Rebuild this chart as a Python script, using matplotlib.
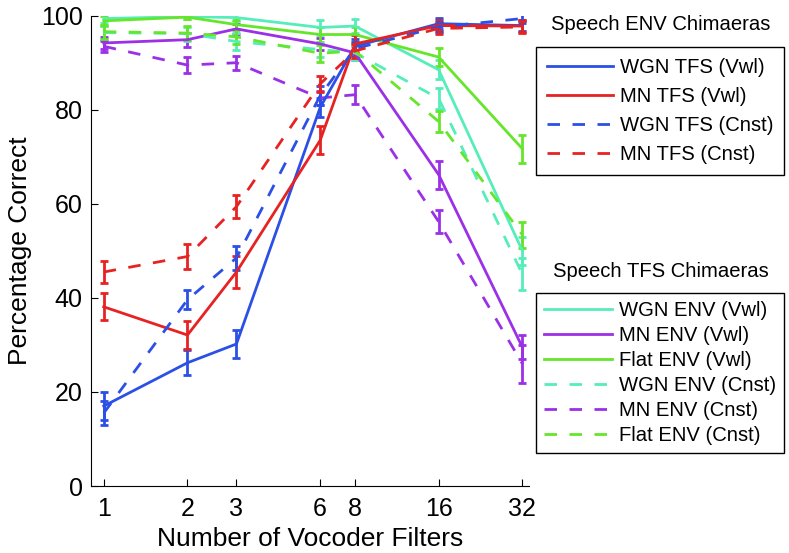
import matplotlib
matplotlib.use('Agg')
import matplotlib.pyplot as plt
from matplotlib.lines import Line2D

plt.rcParams['font.family'] = ['Liberation Sans', 'DejaVu Sans']

# 声码器滤波器数量
filters = [1, 2, 3, 6, 8, 16, 32]

# Speech ENV Chimaeras
wgn_tfs_vwl = [17.0, 26.2, 30.2, 80.5, 93.5, 98.3, 97.9]
wgn_tfs_vwl_err = [3.0, 2.7, 3.0, 2.0, 1.5, 1.2, 1.2]
mn_tfs_vwl = [38.1, 32.1, 45.5, 73.5, 94.0, 97.9, 97.8]
mn_tfs_vwl_err = [2.9, 3.0, 3.3, 3.0, 1.8, 1.2, 1.2]
wgn_tfs_cnst = [15.5, 39.6, 48.5, 83.0, 93.0, 97.6, 99.4]
wgn_tfs_cnst_err = [2.5, 2.0, 2.5, 2.0, 1.5, 1.0, 1.0]
mn_tfs_cnst = [45.5, 48.8, 59.4, 85.5, 92.5, 97.3, 97.6]
mn_tfs_cnst_err = [2.4, 2.6, 2.4, 1.7, 1.5, 1.2, 1.2]

# Speech TFS Chimaeras
wgn_env_vwl = [99.4, 99.8, 99.6, 97.5, 97.8, 88.5, 50.0]
wgn_env_vwl_err = [1.0, 0.5, 0.8, 1.5, 1.5, 2.0, 3.0]
mn_env_vwl = [94.2, 94.9, 97.2, 94.0, 92.1, 66.2, 29.5]
mn_env_vwl_err = [1.2, 1.5, 1.0, 1.2, 1.5, 3.0, 2.6]
flat_env_vwl = [98.9, 99.7, 98.1, 96.0, 96.0, 91.2, 71.7]
flat_env_vwl_err = [1.0, 0.5, 1.0, 1.5, 1.5, 2.0, 3.0]
wgn_env_cnst = [96.4, 96.2, 94.5, 92.8, 92.1, 82.4, 45.0]
wgn_env_cnst_err = [1.5, 1.5, 1.8, 1.5, 1.5, 2.2, 3.4]
mn_env_cnst = [93.5, 89.5, 90.0, 82.5, 83.2, 56.2, 26.0]
mn_env_cnst_err = [1.2, 1.7, 1.5, 1.5, 2.0, 2.5, 4.0]
flat_env_cnst = [96.6, 96.3, 95.5, 92.0, 92.5, 77.5, 53.4]
flat_env_cnst_err = [1.5, 1.5, 1.5, 1.8, 1.5, 2.2, 2.8]

blue = '#2c50e6'
red = '#e62222'
cyan = '#55eebb'
purple = '#9b30e6'
green = '#66e62a'
dash = (0, (4.5, 4.5))

env_series = [
    ('WGN TFS (Vwl)', wgn_tfs_vwl, wgn_tfs_vwl_err, blue, '-'),
    ('MN TFS (Vwl)', mn_tfs_vwl, mn_tfs_vwl_err, red, '-'),
    ('WGN TFS (Cnst)', wgn_tfs_cnst, wgn_tfs_cnst_err, blue, dash),
    ('MN TFS (Cnst)', mn_tfs_cnst, mn_tfs_cnst_err, red, dash),
]
tfs_series = [
    ('WGN ENV (Vwl)', wgn_env_vwl, wgn_env_vwl_err, cyan, '-'),
    ('MN ENV (Vwl)', mn_env_vwl, mn_env_vwl_err, purple, '-'),
    ('Flat ENV (Vwl)', flat_env_vwl, flat_env_vwl_err, green, '-'),
    ('WGN ENV (Cnst)', wgn_env_cnst, wgn_env_cnst_err, cyan, dash),
    ('MN ENV (Cnst)', mn_env_cnst, mn_env_cnst_err, purple, dash),
    ('Flat ENV (Cnst)', flat_env_cnst, flat_env_cnst_err, green, dash),
]

fig = plt.figure(figsize=(7.89, 5.53), dpi=100)
ax = fig.add_axes([91 / 789, 1 - 486 / 553, 438 / 789, 470.3 / 553])

lw = 2.0
for series in (tfs_series, env_series):
    for label, y, err, color, ls in series:
        eb = ax.errorbar(filters, y, yerr=err, color=color, lw=lw, capsize=2.6,
                         capthick=2.0, elinewidth=2.0)
        eb[0].set_linestyle(ls)

ax.set_xscale('log')
ax.set_xlim(0.9, 33.8)
ax.set_ylim(0, 100)
ax.set_xticks(filters)
ax.set_xticklabels([str(f) for f in filters])
ax.minorticks_off()
ax.set_yticks([0, 20, 40, 60, 80, 100])
ax.tick_params(direction='in', length=5, labelsize=18, pad=6)
ax.tick_params(axis='x', pad=8)
ax.spines['top'].set_visible(False)
ax.spines['right'].set_visible(False)
ax.set_xlabel('Number of Vocoder Filters', fontsize=19, labelpad=4)
ax.set_ylabel('Percentage Correct', fontsize=19, labelpad=6)

# 图例(标题放在框外)
def make_handles(series):
    return [Line2D([], [], color=c, lw=lw, linestyle=ls) for _, _, _, c, ls in series]

fs = 14.6
leg1 = fig.legend(make_handles(env_series), [s[0] for s in env_series],
                  loc='upper left', bbox_to_anchor=(535.5 / 789, 1 - 46.7 / 553),
                  borderaxespad=0, fontsize=fs, handlelength=3.25, labelspacing=0.5,
                  fancybox=False, edgecolor='black', framealpha=1, handletextpad=0.35,
                  borderpad=0.55)
leg1.get_frame().set_linewidth(1.0)
leg2 = fig.legend(make_handles(tfs_series), [s[0] for s in tfs_series],
                  loc='upper left', bbox_to_anchor=(535.5 / 789, 1 - 292.7 / 553),
                  borderaxespad=0, fontsize=fs, handlelength=3.35, labelspacing=0.3,
                  fancybox=False, edgecolor='black', framealpha=1, handletextpad=0.35,
                  borderpad=0.4)
leg2.get_frame().set_linewidth(1.0)

fig.text(660.7 / 789, 1 - 25 / 553, 'Speech ENV Chimaeras', fontsize=fs,
         ha='center', va='center')
fig.text(660.7 / 789, 1 - 272 / 553, 'Speech TFS Chimaeras', fontsize=fs,
         ha='center', va='center')

plt.savefig('out.png', dpi=100)
